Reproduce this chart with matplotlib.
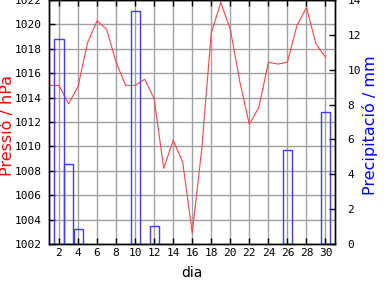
import numpy as np
import matplotlib
matplotlib.use('Agg')
import matplotlib.pyplot as plt

plt.rcParams['font.family'] = 'DejaVu Sans Mono'

# days of the month
dies = list(range(1, 31))
# pressure (hPa) for each day
pressio = [1015.0, 1015.0, 1013.5, 1014.9, 1018.5, 1020.3, 1019.6, 1016.9, 1015.0, 1015.0,
           1015.5, 1013.9, 1008.2, 1010.5, 1008.7, 1002.9, 1009.8, 1019.3, 1021.8, 1019.6,
           1015.3, 1011.8, 1013.2, 1016.9, 1016.75, 1016.9, 1019.9, 1021.4, 1018.4, 1017.3]
# days with rain and amount (mm)
dies_pluja = [2, 3, 4, 10, 12, 26, 30]
pluja = [11.75, 4.6, 0.84, 13.35, 1.03, 5.41, 7.58]

xticks = list(range(2, 31, 2))

fig = plt.figure(figsize=(3.84, 2.88), dpi=100)
ax = fig.add_axes([49/384, 1-244/288, 286/384, 244/288])
ax2 = ax.twinx()

ax.grid(True, color='#a0a0a0', lw=1.0)
ax.set_axisbelow(True)
ax.plot(dies, pressio, color='#ff4545', lw=0.8)
ax2.bar(dies_pluja, pluja, width=0.95, fill=False, edgecolor='#3c3cff', lw=1.0)

ax.set_xlim(0.95, 31)
ax.set_ylim(1002, 1022)
ax2.set_ylim(0, 14)
ax.set_xticks(xticks)
ax.set_yticks(range(1002, 1023, 2))
ax2.set_yticks(range(0, 15, 2))

ax.tick_params(axis='x', direction='in', length=4, width=1, top=True, pad=3, labelsize=8)
ax.tick_params(axis='y', direction='in', length=4, width=1, pad=5, labelsize=8)
ax2.tick_params(axis='y', direction='in', length=4, width=1, pad=9, labelsize=8)

for a in (ax, ax2):
    for s in a.spines.values():
        s.set_linewidth(1)
        s.set_color('black')

sans = 'DejaVu Sans'
fig.text(192/384, 1-273/288, 'dia', family=sans, fontsize=10, color='black',
         ha='center', va='center')
fig.text(7.5/384, 1-126/288, 'Pressió / hPa', family=sans, fontsize=11.5, color='red',
         ha='center', va='center', rotation=90)
fig.text(370/384, 1-125/288, 'Precipitació / mm', family=sans, fontsize=11.5, color='blue',
         ha='center', va='center', rotation=90)

fig.savefig('out.png', dpi=100)
